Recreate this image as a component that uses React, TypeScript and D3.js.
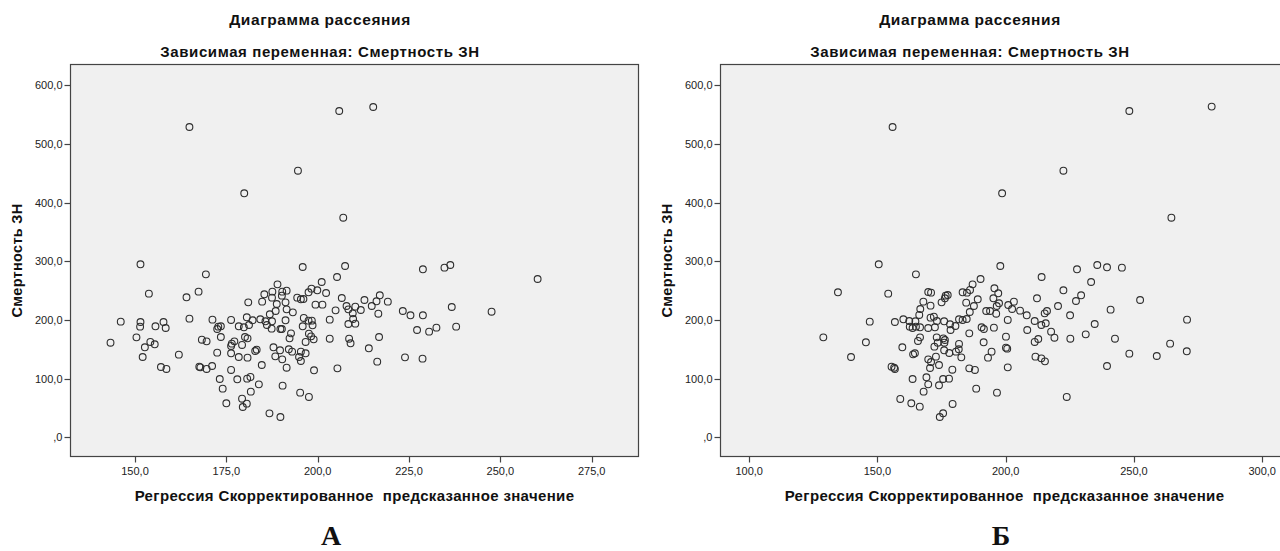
import * as d3 from 'd3';

// scatter plots: observed mortality vs adjusted predicted value (two regressions)

const titleMain = "Диаграмма рассеяния";
const titleSub = "Зависимая переменная: Смертность ЗН";
const yAxisTitle = "Смертность ЗН";
const xAxisTitle = "Регрессия Скорректированное  предсказанное значение";

const yTicks = [0, 100, 200, 300, 400, 500, 600];
const xTicksA = [150, 175, 200, 225, 250, 275];
const xTicksB = [100, 150, 200, 250, 300];

// panel A: [predicted, mortality]
const pointsA: [number, number][] = [
	[164.9, 528.6], [205.9, 555.9], [215.2, 562.7], [194.6, 454.2], [179.9, 415.7], [207.0, 374.1],
	[151.5, 294.7], [169.4, 277.6], [153.8, 244.7], [167.4, 248.1], [164.1, 238.5], [189.0, 260.6], [195.9, 290.1], [207.5, 291.8], [205.3, 273.1], [201.1, 264.6],
	[185.4, 243.6], [187.6, 248.1], [190.3, 248.1], [191.5, 249.8], [190.2, 241.3], [198.3, 253.2], [197.5, 247.0], [199.9, 250.4], [202.3, 245.8], [194.4, 237.9],
	[195.4, 235.1], [196.1, 235.6], [206.6, 237.3], [187.5, 237.9], [181.0, 229.9], [184.8, 231.1], [188.8, 227.1], [191.2, 229.9], [199.4, 226.0], [201.3, 226.0],
	[207.9, 223.7], [204.9, 216.3], [191.5, 218.0], [193.2, 212.9], [188.5, 215.2], [186.9, 209.5], [164.9, 202.1], [171.2, 200.4], [176.3, 199.9], [180.6, 204.4],
	[182.2, 199.3], [184.3, 201.0], [185.7, 197.6], [187.5, 197.6], [191.2, 199.3], [196.2, 203.3], [197.5, 198.7], [198.4, 198.7], [203.3, 200.4], [146.1, 197.0],
	[151.5, 196.4], [151.4, 188.5], [155.6, 189.1], [157.8, 196.4], [158.4, 186.2], [172.8, 188.5], [173.5, 189.1], [172.5, 184.5], [178.4, 189.1], [179.8, 187.4],
	[181.2, 191.3], [186.1, 191.3], [187.4, 185.1], [189.8, 184.5], [190.2, 184.5], [195.9, 189.1], [198.6, 190.8], [208.4, 193.0], [150.4, 170.3], [173.5, 170.9],
	[168.3, 166.3], [169.6, 163.5], [176.3, 155.6], [177.2, 163.5], [176.5, 159.5], [180.1, 170.9], [180.8, 168.6], [179.3, 157.3], [183.3, 149.3], [182.9, 147.0],
	[192.7, 177.1], [192.3, 168.6], [196.7, 162.4], [197.6, 176.6], [198.9, 166.9], [198.2, 172.0], [203.3, 168.0], [154.2, 162.4], [155.4, 158.4], [152.7, 153.3],
	[152.1, 136.8], [162.0, 140.8], [172.5, 144.2], [176.3, 143.1], [178.4, 136.8], [180.8, 135.7], [187.9, 153.3], [189.7, 148.2], [188.4, 137.9], [190.3, 132.8],
	[192.1, 149.9], [193.0, 145.9], [195.4, 145.9], [196.7, 143.1], [194.9, 136.8], [195.4, 130.0], [184.7, 123.2], [191.5, 118.6], [199.0, 114.1], [205.4, 117.5],
	[157.1, 119.8], [158.6, 116.4], [167.6, 120.3], [167.9, 119.2], [169.6, 116.4], [171.1, 121.5], [176.3, 114.7], [173.2, 99.3], [178.0, 98.8], [180.7, 99.9],
	[181.6, 102.8], [174.0, 82.9], [183.9, 90.2], [181.7, 77.8], [190.4, 88.0], [195.2, 76.1], [197.6, 68.7], [175.0, 57.9], [179.3, 65.8], [180.6, 57.3],
	[179.5, 51.6], [186.8, 40.8], [189.8, 34.6], [143.3, 161.2],
	[228.8, 286.2], [234.7, 289.0], [236.3, 293.5], [260.2, 269.7], [208.4, 218.0], [210.3, 222.6], [209.6, 211.2], [211.8, 216.9], [212.8, 233.9], [214.8, 223.7],
	[216.1, 231.7], [217.0, 241.9], [219.2, 231.1], [216.6, 210.6], [209.7, 201.5], [210.3, 193.6], [223.3, 215.2], [225.4, 207.8], [228.8, 207.8], [236.7, 222.0],
	[247.6, 214.0], [227.2, 182.8], [230.5, 180.0], [232.5, 186.8], [237.9, 188.5], [208.6, 168.0], [209.0, 160.1], [216.8, 170.9], [214.0, 151.6], [216.3, 128.9],
	[223.9, 136.2], [228.7, 134.0],
];

// panel B: [predicted, mortality]
const pointsB: [number, number][] = [
	[155.9, 528.6], [248.2, 555.9], [280.3, 563.4], [222.5, 454.2], [198.6, 415.7], [264.6, 374.1],
	[150.5, 294.7], [165.0, 277.6], [134.6, 247.0], [154.2, 244.7], [197.9, 291.8], [190.2, 269.7], [187.1, 260.6], [186.1, 251.0], [183.2, 247.0], [169.8, 247.5],
	[170.9, 246.4], [176.6, 241.3], [177.4, 242.4], [176.3, 236.8], [184.9, 246.4], [189.1, 235.1], [195.6, 253.8], [197.1, 245.3], [195.2, 236.8], [197.4, 228.3],
	[196.5, 223.7], [201.0, 225.4], [167.9, 231.1], [170.7, 224.3], [175.0, 229.9], [184.6, 229.4], [187.6, 223.7], [186.0, 213.5], [192.4, 215.2], [193.9, 215.2],
	[196.3, 210.6], [166.7, 218.6], [166.3, 208.4], [160.1, 201.0], [156.8, 196.4], [147.0, 197.0], [162.4, 198.1], [164.8, 197.6], [162.6, 188.5], [163.7, 186.2],
	[165.0, 188.5], [166.6, 187.4], [169.8, 186.2], [172.0, 205.5], [170.7, 203.8], [172.4, 187.4], [173.2, 198.1], [176.0, 197.6], [178.3, 192.5], [178.5, 182.8],
	[180.4, 189.6], [181.8, 201.0], [183.2, 199.9], [184.8, 201.5], [190.6, 187.4], [191.5, 184.5], [195.4, 186.8], [185.8, 177.1], [128.9, 170.3], [145.5, 161.8],
	[139.7, 136.8], [165.8, 164.1], [166.6, 170.3], [159.7, 153.3], [163.9, 141.3], [164.6, 143.1], [172.2, 154.4], [173.1, 170.3], [175.7, 168.6], [176.3, 165.8],
	[176.1, 161.2], [173.5, 161.2], [176.0, 148.2], [178.0, 143.6], [180.6, 145.9], [181.7, 149.9], [181.8, 159.0], [182.7, 136.2], [172.8, 137.4], [169.8, 132.8],
	[170.9, 128.3], [174.0, 123.2], [170.5, 118.1], [179.2, 115.2], [185.8, 117.5], [188.0, 114.7], [191.4, 161.8], [194.5, 145.9], [193.1, 135.7], [200.1, 171.5],
	[200.1, 152.7], [200.6, 151.0], [200.8, 119.2], [155.5, 120.3], [156.5, 118.6], [156.8, 116.4], [163.7, 99.3], [169.1, 102.2], [169.8, 90.2], [168.0, 77.8],
	[174.0, 88.6], [175.6, 99.3], [177.9, 99.9], [188.5, 82.9], [196.6, 76.1], [158.9, 65.3], [163.2, 57.9], [166.5, 52.2], [179.3, 56.8], [175.6, 40.9],
	[174.3, 34.6], [200.8, 199.9],
	[214.0, 273.1], [227.8, 286.2], [235.7, 293.5], [239.5, 289.6], [245.3, 289.0], [233.3, 264.6], [222.5, 250.4], [229.4, 241.9], [227.4, 232.2], [212.2, 236.8],
	[252.4, 233.9], [203.2, 231.1], [202.5, 218.6], [205.6, 215.8], [208.2, 207.8], [220.4, 223.7], [225.1, 207.8], [240.9, 217.5], [215.2, 211.2],
	[216.1, 215.2], [211.3, 198.1], [213.9, 191.3], [215.6, 194.2], [208.4, 182.8], [217.7, 180.0], [219.0, 169.7], [234.7, 193.0], [231.2, 175.4], [225.2, 168.0],
	[242.6, 168.0], [270.7, 200.4], [211.3, 162.4], [212.7, 167.5], [211.6, 137.4], [213.9, 134.5], [215.3, 129.4], [248.2, 142.5], [239.5, 121.5], [258.9, 138.5],
	[264.1, 159.5], [270.6, 146.5], [223.8, 68.7],
];

const fmt = (v: number) => (v === 0 ? ",0" : v.toFixed(1).replace(".", ","));

const sans = "'Liberation Sans', Arial, sans-serif";

type PanelProps = {
	points: [number, number][];
	xDomain: [number, number];
	xRange: [number, number];
	xTicks: number[];
	frameLeft: number;
	frameRight: number;
	titleX: number;
	letter: string;
	letterX: number;
};

const frameTop = 64.5;
const frameBottom = 456.5;

const y = d3.scaleLinear().domain([0, 600]).range([437.3, 85.1]);

function Panel({ points, xDomain, xRange, xTicks, frameLeft, frameRight, titleX, letter, letterX }: PanelProps) {
	const x = d3.scaleLinear().domain(xDomain).range(xRange);
	const midX = (frameLeft + frameRight) / 2;
	const midY = (frameTop + frameBottom) / 2;
	return (
		<g>
			<text x={titleX} y={25} textAnchor="middle" fontFamily={sans} fontWeight="bold" fontSize={15.5}
				letterSpacing={0.6} fill="#111">{titleMain}</text>
			<text x={titleX} y={57} textAnchor="middle" fontFamily={sans} fontWeight="bold" fontSize={15}
				letterSpacing={0.6} fill="#111">{titleSub}</text>

			<rect x={frameLeft} y={frameTop} width={frameRight - frameLeft} height={frameBottom - frameTop}
				fill="#f0f0f0" stroke="#444" strokeWidth={1.2} />

			{yTicks.map(t => (
				<g key={"y" + t}>
					<line x1={frameLeft - 6} x2={frameLeft} y1={Math.round(y(t)) + 0.5} y2={Math.round(y(t)) + 0.5} stroke="#444" strokeWidth={1.2} />
					<text x={frameLeft - 8} y={y(t) + 4} textAnchor="end" fontFamily={sans} fontSize={11} fill="#222">{fmt(t)}</text>
				</g>
			))}

			{xTicks.map(t => (
				<g key={"x" + t}>
					<line x1={Math.round(x(t)) + 0.5} x2={Math.round(x(t)) + 0.5} y1={frameBottom} y2={frameBottom + 6} stroke="#444" strokeWidth={1.2} />
					<text x={x(t)} y={frameBottom + 18.5} textAnchor="middle" fontFamily={sans} fontSize={11} fill="#222">{fmt(t)}</text>
				</g>
			))}

			{points.map((p, i) => (
				<circle key={i} cx={x(p[0])} cy={y(p[1])} r={3.4} fill="none" stroke="#2e2e2e" strokeWidth={1.1} />
			))}

			<text transform={`translate(${frameLeft - 54},${midY}) rotate(-90)`} textAnchor="middle" dy="0.35em"
				fontFamily={sans} fontWeight="bold" fontSize={14.5} letterSpacing={0.3} fill="#111">{yAxisTitle}</text>
			<text x={midX} y={501} textAnchor="middle" fontFamily={sans} fontWeight="bold" fontSize={15}
				letterSpacing={0.35} fill="#111" style={{ whiteSpace: "pre" }}>{xAxisTitle}</text>

			<text x={letterX} y={545} textAnchor="middle" fontFamily="'Liberation Serif', 'Times New Roman', serif"
				fontWeight="bold" fontSize={28} fill="#111">{letter}</text>
		</g>
	);
}

export default function App() {
	return (
		<svg width={1280} height={551} style={{ position: "absolute", left: 0, top: 0, background: "#fff" }}>
			<Panel points={pointsA} xDomain={[150, 275]} xRange={[135, 591.7]} xTicks={xTicksA}
				frameLeft={70.5} frameRight={638.5} titleX={320} letter="А" letterX={331} />
			<Panel points={pointsB} xDomain={[100, 300]} xRange={[749.2, 1262.2]} xTicks={xTicksB}
				frameLeft={720.5} frameRight={1288.5} titleX={970} letter="Б" letterX={1001} />
		</svg>
	);
}
